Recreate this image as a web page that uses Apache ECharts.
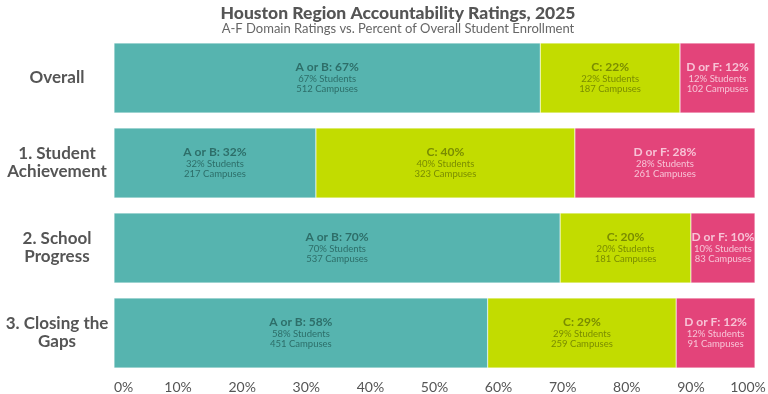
<!DOCTYPE html>
<html><head><meta charset="utf-8">
<script src="https://cdn.jsdelivr.net/npm/echarts@6/dist/echarts.min.js"></script>
<style>html,body{margin:0;padding:0;background:#fff}#c{width:768px;height:394px}</style>
</head><body><div id="c"></div>
<script>
const categories = ['Overall', '1. Student\nAchievement', '2. School\nProgress', '3. Closing the\nGaps'];
const xTicks = ['0%','10%','20%','30%','40%','50%','60%','70%','80%','90%','100%'];
// bar lengths (share of student enrollment, %)
const abShare = [66.5, 31.5, 69.6, 58.3];
const cShare  = [21.8, 40.4, 20.4, 29.4];
const dfShare = [11.7, 28.1, 10.0, 12.3];
// rounded labels
const abPct = [67, 32, 70, 58];
const cPct  = [22, 40, 20, 29];
const dfPct = [12, 28, 10, 12];
const abCampuses = [512, 217, 537, 451];
const cCampuses  = [187, 323, 181, 259];
const dfCampuses = [102, 261, 83, 91];

const FONT = 'Lato, "Open Sans", sans-serif';

function mkSeries(name, share, pct, camp, color, txt) {
  return {
    name: name, type: 'bar', stack: 'all',
    data: share,
    barWidth: 70,
    itemStyle: { color: color, borderColor: 'rgba(255,255,255,0.6)', borderWidth: 0.5 },
    label: {
      show: true, position: 'inside', offset: [0, -1],
      formatter: p => '{h|' + name + ': ' + pct[p.dataIndex] + '%}\n{s|' + pct[p.dataIndex] + '% Students}\n{s|' + camp[p.dataIndex] + ' Campuses}',
      rich: {
        h: { fontFamily: FONT, fontWeight: 'bold', fontSize: 12, color: txt, lineHeight: 13 },
        s: { fontFamily: FONT, fontSize: 9.5, color: txt, lineHeight: 10 }
      }
    }
  };
}

const chart = echarts.init(document.getElementById('c'), null, { renderer: 'canvas' });
chart.setOption({
  animation: false,
  title: {
    text: 'Houston Region Accountability Ratings, 2025',
    subtext: 'A-F Domain Ratings vs. Percent of Overall Student Enrollment',
    left: 393, textAlign: 'center', top: -1, itemGap: 0,
    textStyle: { fontFamily: FONT, fontWeight: 900, fontSize: 17.5, color: '#555' },
    subtextStyle: { fontFamily: FONT, fontSize: 13, color: '#666' }
  },
  grid: { left: 114, right: 13, top: 35.5, bottom: 18.5, containLabel: false, outerBoundsMode: 'none' },
  xAxis: {
    type: 'value', min: 0, max: 100, interval: 10,
    axisLabel: {
      formatter: v => v === 100 ? '{m|' + xTicks[v / 10] + '}' : xTicks[v / 10],
      fontFamily: FONT, fontSize: 14, color: '#555', margin: 5, alignMinLabel: 'left',
      rich: { m: { fontFamily: FONT, fontSize: 14, color: '#555', padding: [0, 14, 0, 0] } }
    },
    splitLine: { show: false }, axisLine: { show: false }, axisTick: { show: false }
  },
  yAxis: {
    type: 'category', data: categories, inverse: true,
    axisLine: { show: false }, axisTick: { show: false },
    axisLabel: { fontFamily: FONT, fontWeight: 'bold', fontSize: 17, color: '#555', align: 'center', margin: 57, lineHeight: 18 }
  },
  series: [
    mkSeries('A or B', abShare, abPct, abCampuses, '#56b4af', '#2d6e69'),
    mkSeries('C', cShare, cPct, cCampuses, '#c2dc00', '#7a8c00'),
    mkSeries('D or F', dfShare, dfPct, dfCampuses, '#e3447a', '#f7c3d6')
  ]
});
</script></body></html>
